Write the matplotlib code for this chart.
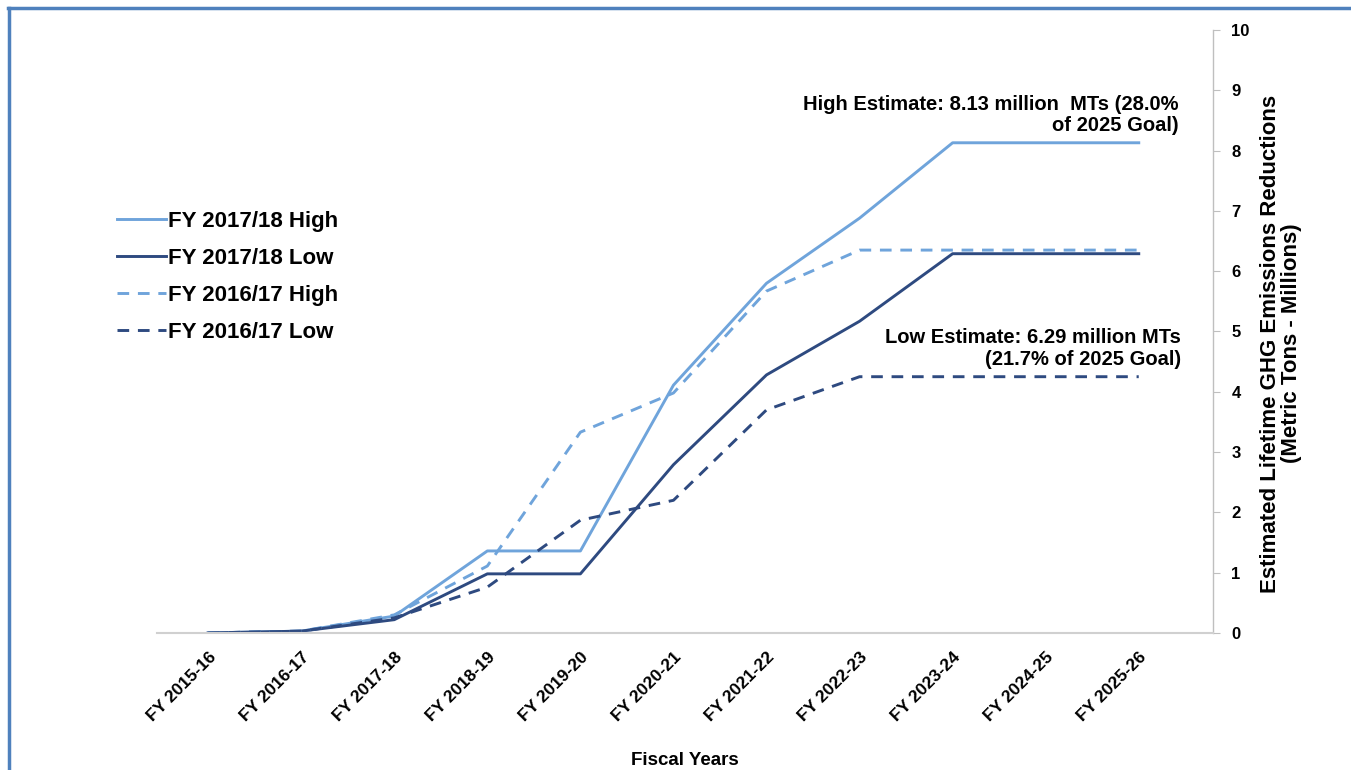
import matplotlib.pyplot as plt
from matplotlib.lines import Line2D

# Fiscal years on the x axis
years = ['FY 2015-16', 'FY 2016-17', 'FY 2017-18', 'FY 2018-19', 'FY 2019-20',
         'FY 2020-21', 'FY 2021-22', 'FY 2022-23', 'FY 2023-24', 'FY 2024-25',
         'FY 2025-26']

# Estimated lifetime reductions (million metric tons)
high_1718 = [0, 0.03, 0.28, 1.36, 1.36, 4.11, 5.80, 6.88, 8.13, 8.13, 8.13]
low_1718 = [0, 0.03, 0.22, 0.98, 0.98, 2.79, 4.28, 5.17, 6.29, 6.29, 6.29]
high_1617 = [0, 0.03, 0.30, 1.11, 3.33, 3.98, 5.67, 6.35, 6.35, 6.35, 6.35]
low_1617 = [0, 0.03, 0.25, 0.76, 1.87, 2.20, 3.70, 4.25, 4.25, 4.25, 4.25]

light = '#6FA4DB'
dark = '#2E4A80'

plt.rcParams['font.family'] = ['Liberation Sans', 'DejaVu Sans']

fig = plt.figure(figsize=(13.51, 7.70), dpi=100)
ax = fig.add_axes([0.1162, 0.178, 0.7818, 0.783])

x = list(range(len(years)))
lw = 2.1
ax.plot(x, high_1718, color=light, linewidth=lw, label='FY 2017/18 High')
ax.plot(x, low_1718, color=dark, linewidth=lw, label='FY 2017/18 Low')
ax.plot(x, high_1617, color=light, linewidth=lw, dashes=(4, 3), label='FY 2016/17 High')
ax.plot(x, low_1617, color=dark, linewidth=lw, dashes=(4, 3), label='FY 2016/17 Low')

ax.set_xlim(-0.55, 10.8)
ax.set_ylim(0, 10)
ax.set_xticks(x)
ax.set_xticklabels(years, rotation=45, ha='right', rotation_mode='anchor',
                   fontsize=12.5, fontweight='bold')
ax.tick_params(axis='x', length=0, pad=12)

ax.yaxis.tick_right()
ax.yaxis.set_label_position('right')
ax.set_yticks(range(0, 11))
ax.tick_params(axis='y', length=5, color='#bfbfbf', labelsize=12, pad=8)
for t in ax.get_yticklabels():
    t.set_fontweight('bold')

for s in ['top', 'left']:
    ax.spines[s].set_visible(False)
ax.spines['bottom'].set_color('#d0d0d0')
ax.spines['bottom'].set_linewidth(1.5)
ax.spines['right'].set_color('#bfbfbf')
ax.spines['right'].set_linewidth(1.0)

ax.set_ylabel('Estimated Lifetime GHG Emissions Reductions\n(Metric Tons - Millions)',
              fontsize=16, fontweight='bold', linespacing=1.05)
ax.yaxis.set_label_coords(1.044, 0.48)
ax.set_xlabel('Fiscal Years', fontsize=13.5, fontweight='bold', labelpad=20)

ax.text(10.43, 8.59, 'High Estimate: 8.13 million  MTs (28.0%\nof 2025 Goal)',
        ha='right', va='center', multialignment='right',
        fontsize=14.5, fontweight='bold', linespacing=1.15)
ax.text(10.45, 4.71, 'Low Estimate: 6.29 million MTs\n(21.7% of 2025 Goal)',
        ha='right', va='center', multialignment='right',
        fontsize=14.5, fontweight='bold', linespacing=1.2)

fig.legend(loc='upper left', bbox_to_anchor=(0.072, 0.752), frameon=False,
           prop={'size': 16, 'weight': 'bold'}, handlelength=2.2,
           handletextpad=0.1, labelspacing=0.72)

# outer frame like the source slide
fig.add_artist(Line2D([0.006, 1.0], [0.99, 0.99], color='#4F81BD', linewidth=2.5,
                      transform=fig.transFigure))
fig.add_artist(Line2D([0.007, 0.007], [0.0, 0.99], color='#4F81BD', linewidth=2.5,
                      transform=fig.transFigure))

fig.savefig('out.png', dpi=100)
